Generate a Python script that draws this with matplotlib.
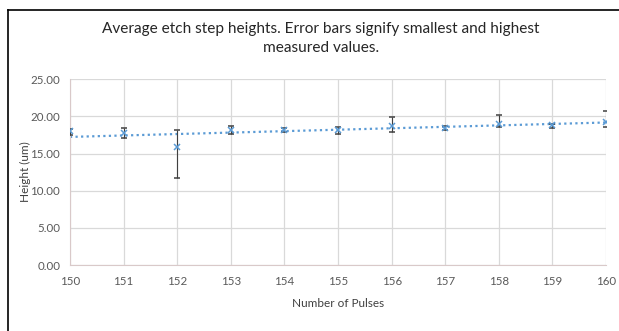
import matplotlib
matplotlib.use("Agg")
import matplotlib.pyplot as plt
from matplotlib.lines import Line2D
import numpy as np

plt.rcParams['font.family'] = ['Lato', 'DejaVu Sans']

pulses = [150, 151, 152, 153, 154, 155, 156, 157, 158, 159, 160]
avg_height = [18.0, 17.7, 15.9, 18.1, 18.2, 18.1, 18.7, 18.4, 19.0, 18.8, 19.3]
min_height = [17.5, 17.1, 11.7, 17.6, 17.9, 17.6, 17.9, 18.1, 18.5, 18.4, 18.5]
max_height = [18.3, 18.4, 18.2, 18.7, 18.4, 18.5, 19.9, 18.7, 20.2, 19.0, 20.7]

title = "Average etch step heights. Error bars signify smallest and highest\nmeasured values."

x = np.array(pulses)
y = np.array(avg_height)
err_lo = y - np.array(min_height)
err_hi = np.array(max_height) - y

fig = plt.figure(figsize=(6.19, 3.31), dpi=100)
ax = fig.add_axes([0.113, 0.199, 0.866, 0.562])

# trendline
coef = np.polyfit(x, y, 1)
xt = np.linspace(150, 160, 50)
ax.plot(xt, np.polyval(coef, xt), linestyle=(0, (1, 1.5)), color="#5b9bd5", lw=1.6, zorder=2)

ax.errorbar(x, y, yerr=[err_lo, err_hi], fmt="x", color="#5b9bd5", ms=4, mew=1.1,
            ecolor="#404040", elinewidth=0.8, capsize=2, capthick=0.8, zorder=3)

ax.set_xlim(150, 160)
ax.set_ylim(0, 25)
ax.set_xticks(pulses)
ax.set_yticks([0, 5, 10, 15, 20, 25])
ax.set_yticklabels(["{:.2f}".format(v) for v in [0, 5, 10, 15, 20, 25]])
ax.grid(True, color="#d9d9d9", lw=0.9)
ax.set_axisbelow(True)
for s in ["top", "right"]:
    ax.spines[s].set_visible(False)
for s in ["left", "bottom"]:
    ax.spines[s].set_color("#d9c9c9")
ax.tick_params(length=0, labelsize=8.3, colors="#595959")
ax.tick_params(axis="x", pad=8)
ax.tick_params(axis="y", pad=7)
ax.set_xlabel("Number of Pulses", fontsize=8.5, color="#404040", labelpad=8)
ax.set_ylabel("Height (um)", fontsize=8.5, color="#404040")
ax.yaxis.set_label_coords(-0.073, 0.5)

fig.text(0.518, 0.883, title, ha="center", va="center", fontsize=11.1, color="#262626", linespacing=1.45)

# chart frame (cropped)
fig.add_artist(Line2D([8/619, 8/619], [0, 1 - 10/331], color="black", lw=1.2, transform=fig.transFigure))
fig.add_artist(Line2D([8/619, 1], [1 - 10/331, 1 - 10/331], color="black", lw=1.2, transform=fig.transFigure))

fig.savefig("out.png", dpi=100)
